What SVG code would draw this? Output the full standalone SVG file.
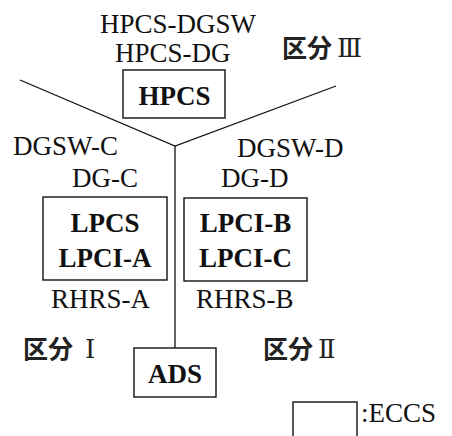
<svg xmlns="http://www.w3.org/2000/svg" width="452" height="436" viewBox="0 0 452 436">
<style>
.t{font-family:"Liberation Serif","Times New Roman",Times,"DejaVu Serif",serif;font-size:27px;fill:#111}
.b{font-family:"Liberation Serif","Times New Roman",Times,"DejaVu Serif",serif;font-size:27px;font-weight:bold;fill:#111;text-anchor:middle}
.j{font-family:"Noto Sans CJK JP","Noto Sans CJK SC",sans-serif;font-size:25px;font-weight:bold;fill:#222}
.r{font-family:"DejaVu Serif","Liberation Serif","Noto Sans CJK JP",serif;font-size:26px;font-weight:normal}
.box{fill:none;stroke:#111;stroke-width:1.4}
.ln{fill:none;stroke:#111;stroke-width:1.3}
</style>
<rect width="452" height="436" fill="#fff"/>
<g id="connectors">
<polyline class="ln" points="20,80 175,146 336,86"/>
<line class="ln" x1="175" y1="146" x2="175" y2="348"/>
</g>
<g id="labels">
<text class="t" x="100" y="33">HPCS-DGSW</text>
<text class="t" x="115" y="62">HPCS-DG</text>
<text class="j" x="282" y="57">区分<tspan class="r" x="337">Ⅲ</tspan></text>
<text class="t" x="13" y="155">DGSW-C</text>
<text class="t" x="237" y="157">DGSW-D</text>
<text class="t" x="72" y="187">DG-C</text>
<text class="t" x="221" y="187">DG-D</text>
<text class="t" x="51" y="308">RHRS-A</text>
<text class="t" x="196" y="308">RHRS-B</text>
<text class="j" x="23" y="358">区分<tspan class="r" x="85">Ⅰ</tspan></text>
<text class="j" x="263" y="358">区分<tspan class="r" x="318">Ⅱ</tspan></text>
</g>
<g id="hpcs">
<rect class="box" x="123" y="70" width="102" height="48"/>
<text class="b" x="174.5" y="105">HPCS</text>
</g>
<g id="lpcs">
<rect class="box" x="43" y="197" width="124" height="83"/>
<text class="b" x="105" y="232">LPCS</text>
<text class="b" x="105" y="267">LPCI-A</text>
</g>
<g id="lpci">
<rect class="box" x="184" y="198" width="123" height="83"/>
<text class="b" x="245.5" y="232">LPCI-B</text>
<text class="b" x="245.5" y="267">LPCI-C</text>
</g>
<g id="ads">
<rect class="box" x="134" y="348" width="82" height="49"/>
<text class="b" x="175" y="383">ADS</text>
</g>
<g id="legend">
<rect class="box" x="293" y="402" width="64" height="40"/>
<text class="t" x="361" y="422">:ECCS</text>
</g>
</svg>
